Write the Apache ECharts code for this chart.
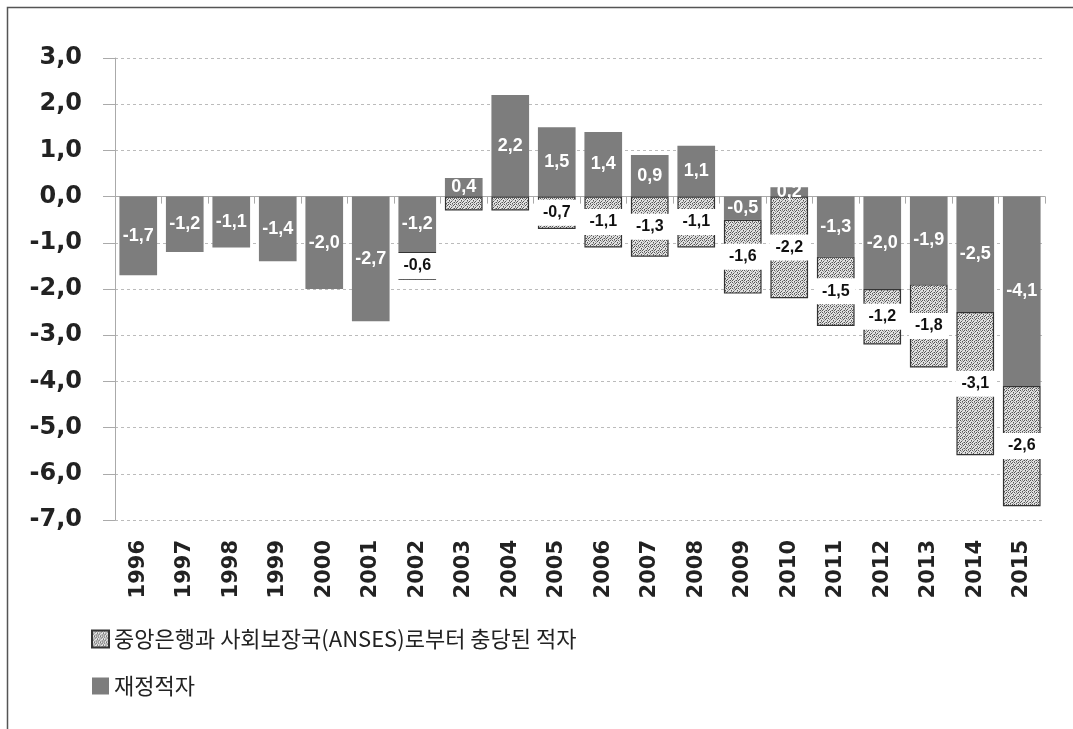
<!DOCTYPE html>
<html>
<head>
<meta charset="utf-8">
<script src="https://cdn.jsdelivr.net/npm/echarts@6/dist/echarts.min.js"></script>
<style>html,body{margin:0;padding:0;background:#fff}#c{width:1073px;height:729px}</style>
</head>
<body>
<div id="c"></div>
<script>
const years = ['1996','1997','1998','1999','2000','2001','2002','2003','2004','2005','2006','2007','2008','2009','2010','2011','2012','2013','2014','2015'];
const fiscalName = '재정적자';
const coveredName = '중앙은행과 사회보장국(ANSES)로부터 충당된 적자';
const fiscal = [-1.7,-1.2,-1.1,-1.4,-2.0,-2.7,-1.2,0.4,2.2,1.5,1.4,0.9,1.1,-0.5,0.2,-1.3,-2.0,-1.9,-2.5,-4.1];
const covered = [null,null,null,null,null,null,-0.6,-0.3,-0.3,-0.7,-1.1,-1.3,-1.1,-1.6,-2.2,-1.5,-1.2,-1.8,-3.1,-2.6];
const coveredLabeled = [false,false,false,false,false,false,true,false,false,true,true,true,true,true,true,true,true,true,true,true];
const yTicks = {min:-7, max:3, interval:1};

function fmt(v){ return v.toFixed(1).replace('.', ','); }

// dotted fill pattern
const pc = document.createElement('canvas');
pc.width = 6; pc.height = 6;
const g = pc.getContext('2d');
g.fillStyle = '#e2e2e2'; g.fillRect(0,0,6,6);
g.fillStyle = '#555';
[[0,0],[3,1],[1,3],[4,4],[2,5],[5,2],[4,0],[0,4]].forEach(p => g.fillRect(p[0],p[1],1,1));
g.fillStyle = '#999';
[[2,2],[5,5],[1,1],[3,4],[2,0],[5,3]].forEach(p => g.fillRect(p[0],p[1],1,1));
const dotted = {image: pc, repeat: 'repeat'};

const chart = echarts.init(document.getElementById('c'));
chart.setOption({
  backgroundColor: '#fff',
  animation: false,
  graphic: [{
    type: 'rect', shape: {x: 7.5, y: 7.5, width: 1200, height: 900},
    style: {fill: 'none', stroke: '#555', lineWidth: 1.5}, silent: true
  }],
  grid: {left: 115, right: 28, top: 58, bottom: 209},
  legend: {
    orient: 'vertical', left: 86, top: 623, itemGap: 25,
    itemWidth: 17, itemHeight: 17, icon: 'rect',
    data: [coveredName, fiscalName],
    textStyle: {fontFamily: 'Noto Sans CJK KR', fontSize: 22, color: '#222'}
  },
  xAxis: [{
    type: 'category', data: years,
    axisLine: {show: true, onZero: true, lineStyle: {color: '#aaa', width: 1}},
    axisTick: {show: true, length: 7, lineStyle: {color: '#aaa'}},
    axisLabel: {show: false}
  }, {
    type: 'category', data: years, position: 'bottom',
    axisLine: {show: false, onZero: false}, axisTick: {show: false},
    axisLabel: {rotate: 90, margin: 20, fontFamily: 'DejaVu Sans', fontWeight: 'bold', fontSize: 21, color: '#222'}
  }],
  yAxis: {
    type: 'value', min: yTicks.min, max: yTicks.max, interval: yTicks.interval,
    axisLine: {show: true, lineStyle: {color: '#aaa'}},
    axisTick: {show: true, length: 12, lineStyle: {color: '#aaa'}},
    splitLine: {show: true, lineStyle: {color: '#bbb', type: [3,3]}},
    axisLabel: {margin: 33, formatter: fmt, fontFamily: 'DejaVu Sans', fontWeight: 'bold', fontSize: 24, color: '#222'}
  },
  series: [{
    name: fiscalName, type: 'bar', stack: 'd', xAxisIndex: 0,
    barCategoryGap: '19%',
    data: fiscal,
    itemStyle: {color: '#7d7d7d'},
    label: {show: true, position: 'inside', formatter: p => fmt(p.value),
      color: '#fff', fontFamily: 'Liberation Sans', fontWeight: 'bold', fontSize: 18}
  }, {
    name: coveredName, type: 'bar', stack: 'd', xAxisIndex: 0,
    barCategoryGap: '19%',
    data: covered.map((v, i) => ({value: v, label: {show: coveredLabeled[i]}})),
    itemStyle: {color: dotted, borderColor: '#333', borderWidth: 1.2},
    label: {show: true, position: 'inside',
      formatter: p => fmt(p.value),
      color: '#111', fontFamily: 'Liberation Sans', fontWeight: 'bold', fontSize: 16,
      backgroundColor: '#fff', padding: [5, 6]}
  }]
});
</script>
</body>
</html>
